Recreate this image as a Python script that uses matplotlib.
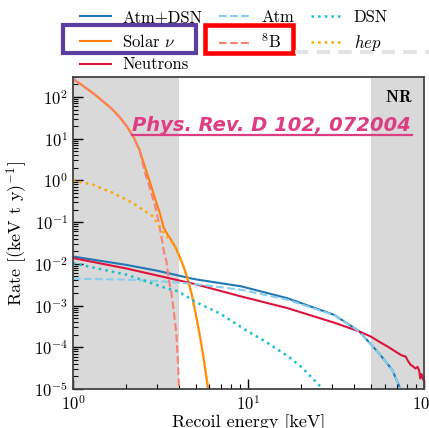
import numpy as np
import matplotlib
matplotlib.use("Agg")
from matplotlib import pyplot as plt
from matplotlib.patches import Rectangle
from matplotlib.lines import Line2D

plt.rcParams['font.family'] = 'serif'
plt.rcParams['font.serif'] = ['cmr10', 'DejaVu Serif']
plt.rcParams['mathtext.fontset'] = 'cm'
plt.rcParams['axes.formatter.use_mathtext'] = True
plt.rcParams['font.size'] = 12

solar_E = [1.0, 1.096, 1.201, 1.334, 1.481, 1.666, 1.849, 2.027, 2.222, 2.403, 2.599, 2.775,
           2.962, 3.122, 3.289, 3.466, 3.652, 3.847, 4.055, 4.272, 4.502, 4.745, 4.999, 5.268,
           5.551, 5.772, 5.925]
solar_R = [268, 209, 158, 114, 79, 52, 32.7, 19.9, 10.8, 5.26, 1.84, 0.80,
           0.33, 0.170, 0.074, 0.050, 0.036, 0.0245, 0.0149, 8.57e-3, 4.41e-3, 1.92e-3, 6.7e-4, 2.1e-4,
           5.6e-5, 1.84e-5, 8.5e-6]

b8_E = [1.0, 1.096, 1.201, 1.334, 1.481, 1.666, 1.849, 2.027, 2.222, 2.403, 2.565, 2.738, 2.92,
        3.06, 3.19, 3.30, 3.41, 3.52, 3.64, 3.76, 3.88, 3.95, 4.01, 4.04]
b8_R = [267, 208, 157, 113, 78.4, 51.5, 32.3, 19.6, 10.55, 5.0, 1.6, 0.68, 0.27,
        0.115, 0.046, 0.0197, 0.0115, 4.17e-3, 2e-3, 7.1e-4, 2.2e-4, 6.6e-5, 1.4e-5, 7.2e-6]

hep_E = [1.0, 1.30, 1.69, 2.19, 2.85, 3.25, 3.466, 3.652, 3.847, 4.055, 4.272, 4.502, 4.745,
         4.999, 5.268, 5.551, 5.772, 5.925]
hep_R = [1.0, 0.79, 0.50, 0.29, 0.138, 0.060, 0.044, 0.034, 0.024, 0.0146, 8.4e-3, 4.3e-3, 1.88e-3,
         6.6e-4, 2.06e-4, 5.5e-5, 1.8e-5, 8.3e-6]

tot_E = [1.0, 2.0, 3.0, 4.93, 9.08, 16.7, 30.8, 42.9, 55.5, 66, 73.6, 77]
tot_R = [0.0150, 9.5e-3, 6.9e-3, 4.3e-3, 2.9e-3, 1.5e-3, 6.0e-4, 2.4e-4, 7.2e-5, 2.9e-5, 1e-5, 7e-6]

atm_E = [1.0, 2.0, 3.0, 4.93, 9.08, 16.7, 30.8, 42.9, 55.5, 66, 73.6, 77]
atm_R = [4.4e-3, 4.2e-3, 3.9e-3, 3.3e-3, 2.4e-3, 1.38e-3, 5.9e-4, 2.4e-4, 7.2e-5, 2.9e-5, 1e-5, 7e-6]

dsn_E = [1.0, 2.02, 2.62, 3.41, 3.97, 5.15, 6.83, 9.5, 12.6, 16.7, 20, 26, 27.5]
dsn_R = [0.0104, 5.5e-3, 3.8e-3, 2.6e-3, 2.2e-3, 1.15e-3, 6.6e-4, 2.7e-4, 1.35e-4, 6.2e-5, 3.4e-5, 1.1e-5, 8e-6]

neu_E = [1.0, 2.0, 3.0, 4.93, 9.08, 16.7, 30.8, 42.9, 50, 55.5, 62, 69, 73, 75, 78.7,
         81, 84, 86, 89.6, 92, 94, 95.4, 97, 99]
neu_R = [0.0138, 7.8e-3, 5.3e-3, 3.3e-3, 1.66e-3, 8.7e-4, 3.9e-4, 2.4e-4, 1.8e-4, 1.37e-4, 1.05e-4,
         7.9e-5, 6.8e-5, 6.4e-5, 6e-5, 4.8e-5, 3.8e-5, 3.6e-5, 3.1e-5, 3.4e-5, 2.8e-5, 1.8e-5,
         2.3e-5, 1.7e-5]

fig = plt.figure(figsize=(4.29, 4.28), dpi=100)
ax = fig.add_axes([0.170, 0.091, 0.818, 0.729])

ax.axvspan(1, 4, color='#d9d9d9', lw=0, zorder=0)
ax.axvspan(50, 100, color='#d9d9d9', lw=0, zorder=0)

l_tot, = ax.plot(tot_E, tot_R, color='#1f77b4', lw=1.5, label='Atm+DSN')
l_sol, = ax.plot(solar_E, solar_R, color='#ff7f0e', lw=1.5, label=r'Solar $\nu$')
l_neu, = ax.plot(neu_E, neu_R, color='#dc143c', lw=1.5, label='Neutrons')
l_atm, = ax.plot(atm_E, atm_R, color='#87ceeb', lw=1.5, ls='--', label='Atm')
l_b8, = ax.plot(b8_E, b8_R, color='#fa8072', lw=1.5, ls='--', label=r'$^8$B')
l_dsn, = ax.plot(dsn_E, dsn_R, color='#17becf', lw=1.8, ls=':', label='DSN')
l_hep, = ax.plot(hep_E, hep_R, color='#ffa500', lw=1.8, ls=':', label=r'$hep$')

ax.set_xscale('log')
ax.set_yscale('log')
ax.set_xlim(1, 100)
ax.set_ylim(1e-5, 300)
ax.set_yticks([1e-5, 1e-4, 1e-3, 1e-2, 1e-1, 1, 10, 100])
ax.set_xlabel('Recoil energy [keV]', fontsize=13, labelpad=1)
ax.set_ylabel(r'Rate [(keV t y)$^{-1}$]', fontsize=13, labelpad=3)
ax.tick_params(which='major', direction='in', length=7, width=1, labelsize=12)
ax.tick_params(which='minor', direction='in', length=3.5, width=0.8)
for s in ax.spines.values():
    s.set_color('#444444')
    s.set_linewidth(1.3)

ax.text(0.967, 0.935, r'$\mathbf{NR}$', transform=ax.transAxes, ha='right', va='center', fontsize=12)

# watermark
fig.text(0.308, 0.694, 'Phys. Rev. D 102, 072004', color='#de3d84', fontsize=14,
         family='DejaVu Sans', weight='bold', style='italic', ha='left', va='baseline')
fig.add_artist(Line2D([0.308, 0.960], [0.684, 0.684], color='#de3d84', lw=1.6))

fig.legend(handles=[l_tot, l_sol, l_neu, l_atm, l_b8, l_dsn, l_hep], ncol=3, frameon=False,
           loc='upper center', bbox_to_anchor=(0.545, 1.012), handlelength=1.9,
           handletextpad=0.65, columnspacing=1.0, labelspacing=0.45, fontsize=12)

W, H = 429, 428
fig.add_artist(Rectangle((63 / W, 1 - 53 / H), 133 / W, 28 / H, fill=False,
                         ec='#5b3fa0', lw=3, transform=fig.transFigure))
fig.add_artist(Rectangle((205 / W, 1 - 53 / H), 88 / W, 28 / H, fill=False,
                         ec='#ff0000', lw=3.3, transform=fig.transFigure))
fig.add_artist(Line2D([295 / W, 1.0], [1 - 52 / H, 1 - 52 / H], color='#e3e3e3', lw=3,
                      ls=(0, (3.2, 2.0))))

fig.savefig('out.png', dpi=100)
